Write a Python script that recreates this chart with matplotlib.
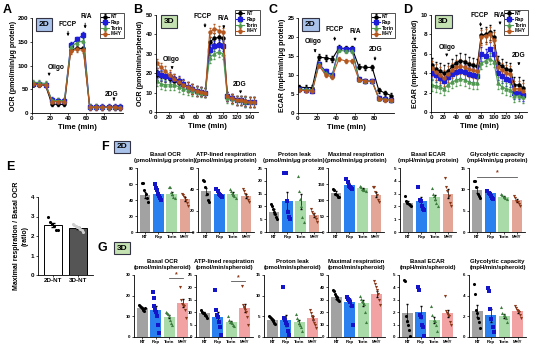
import numpy as np
import matplotlib.pyplot as plt

plt.rcParams['font.family'] = ['Liberation Sans', 'DejaVu Sans']
plt.rcParams['font.weight'] = 'bold'
plt.rcParams['axes.labelweight'] = 'bold'
plt.rcParams['axes.linewidth'] = 0.6
plt.rcParams['xtick.major.width'] = 0.5
plt.rcParams['ytick.major.width'] = 0.5
plt.rcParams['xtick.major.size'] = 1.5
plt.rcParams['ytick.major.size'] = 1.5
plt.rcParams['xtick.major.pad'] = 1
plt.rcParams['ytick.major.pad'] = 1

groups = ['NT', 'Rap', 'Torin', 'MHY']
line_colors = ['black', '#1e1ed8', '#4f9a4f', '#b5581f']
line_markers = ['o', 's', '^', 'o']

# ---- time courses ----
t_2d = [1, 8, 15, 22, 29, 36, 43, 50, 57, 64, 71, 78, 85, 92, 98]
t_3d = [1, 7.5, 14, 20.5, 27, 34, 40.5, 47, 54, 60.5, 67, 73.5, 80, 87, 93.5, 100,
        106.5, 113, 120, 126.5, 133, 140, 146.5]

ocr_2d = [[60, 60, 58, 19, 18, 18, 133, 136, 136, 12, 12, 12, 12, 12, 11],
          [62, 62, 60, 27, 26, 26, 143, 155, 165, 13, 13, 13, 13, 13, 12],
          [65, 64, 62, 27, 26, 26, 140, 148, 152, 13, 13, 12, 12, 12, 12],
          [61, 60, 59, 24, 24, 23, 130, 134, 132, 12, 12, 12, 12, 12, 11]]
ocr_2d_err = [4, 6, 5, 5]

ocr_3d = [[19, 18.5, 18, 17, 16, 15, 14, 13, 12, 11, 10.5, 10, 36, 38, 38.5, 38, 8, 7, 6, 6, 5.5, 5, 5],
          [20, 19, 18.5, 18, 17, 16, 14.5, 13, 12, 11, 10.5, 10, 32, 34, 34.5, 34, 8, 7, 6, 6, 5, 5, 5],
          [16, 14.5, 14, 14, 14, 13, 12, 11.5, 11, 10.5, 10, 10, 28, 30, 31, 30, 7, 6.5, 6, 6, 5, 5, 5],
          [25, 23, 21, 19, 17, 15.5, 14, 13, 12, 11, 10.5, 10, 41, 43, 42, 41, 8, 7, 6, 6, 5.5, 5, 5]]
ocr_3d_err = [2.5, 2.5, 2.5, 2.5]

ecar_2d = [[6.8, 6.7, 6.7, 14.7, 14.5, 14.2, 17.1, 17.0, 17.0, 12.2, 12.0, 12.0, 6.0, 5.2, 4.6],
           [6.2, 6.1, 5.9, 13.0, 11.0, 10.0, 17.0, 16.8, 16.8, 9.0, 8.5, 8.4, 4.0, 3.7, 3.5],
           [6.3, 6.2, 6.1, 12.8, 10.5, 9.8, 16.5, 16.3, 16.3, 8.8, 8.5, 8.3, 3.8, 3.6, 3.4],
           [6.0, 5.9, 5.8, 12.5, 10.0, 9.5, 14.2, 13.7, 13.7, 8.8, 8.4, 8.3, 3.8, 3.5, 3.3]]
ecar_2d_err = [0.7, 0.5, 0.5, 0.5]

ecar_3d = [[4.8, 4.4, 4.2, 4.0, 4.2, 4.7, 5.1, 5.3, 5.2, 4.9, 4.8, 4.7, 7.9, 8.0, 8.2, 7.7, 5.0, 4.7, 4.4, 4.3, 2.8, 2.8, 2.5],
           [4.0, 3.8, 3.5, 3.2, 3.6, 3.9, 4.1, 4.2, 4.1, 3.9, 3.8, 3.7, 6.0, 5.8, 6.5, 6.0, 4.0, 3.7, 3.4, 3.3, 2.0, 2.0, 1.8],
           [2.8, 2.7, 2.6, 2.4, 2.8, 3.1, 3.3, 3.4, 3.3, 3.1, 3.0, 3.0, 5.0, 5.3, 5.5, 5.2, 3.0, 2.6, 2.4, 2.3, 1.6, 1.7, 1.5],
           [4.5, 4.1, 3.8, 3.5, 3.9, 4.3, 4.6, 4.7, 4.6, 4.4, 4.3, 4.2, 7.7, 7.8, 8.0, 7.4, 4.6, 4.3, 4.0, 3.9, 2.4, 2.4, 2.2]]
ecar_3d_err = [0.8, 0.7, 0.6, 0.8]

# ---- E ----
e_labels = ['2D-NT', '3D-NT']
e_mean = [2.55, 2.43]
e_sem = [0.1, 0.05]
e_pts = [[2.95, 2.7, 2.6, 2.5, 2.3, 2.3], [2.6, 2.55, 2.5, 2.45, 2.4, 2.35, 2.3, 2.2]]

# ---- F (2D) ----
f_titles = ['Basal OCR\n(pmol/min/\u03bcg protein)', 'ATP-lined respiration\n(pmol/min/\u03bcg protein)',
            'Proton leak\n(pmol/min/\u03bcg protein)', 'Maximal respiration\n(pmol/min/\u03bcg protein)',
            'Basal ECAR\n(mpH/min/\u03bcg protein)', 'Glycolytic capacity\n(mpH/min/\u03bcg protein)']
f_basal_mean = [46, 48, 48, 41]
f_basal_sem = [3.5, 2.5, 2, 2.5]
f_basal_pts = [[61, 61, 52, 47, 42, 37], [60, 55, 52, 48, 45, 42, 40], [56, 56, 50, 48, 44, 43], [47, 46, 44, 40, 36, 32]]
f_atp_mean = [38, 36, 36, 34]
f_atp_sem = [3, 1.2, 1.2, 2]
f_atp_pts = [[49, 48, 42, 36, 30, 28], [40, 38, 36, 35, 34, 33], [40, 38, 37, 35, 34, 32], [40, 38, 36, 33, 30, 28]]
f_leak_mean = [8, 12, 12, 6.5]
f_leak_sem = [0.8, 3.5, 3, 0.8]
f_leak_pts = [[11, 10, 9, 8, 7, 6, 5], [23, 23, 12, 8, 6, 5], [22, 16, 13, 10, 6, 4], [9, 8, 7, 6, 5, 4]]
f_max_mean = [122, 147, 136, 117]
f_max_sem = [5, 5, 3, 8]
f_max_pts = [[135, 130, 120, 115, 110, 108], [165, 155, 145, 142, 138, 135], [145, 142, 135, 132, 130, 128], [142, 140, 125, 115, 100, 95]]
f_ecar_mean = [2.3, 2.4, 2.7, 3.0]
f_ecar_sem = [0.12, 0.3, 0.2, 0.35]
f_ecar_pts = [[2.8, 2.4, 2.3, 2.2, 2.1, 2.0], [3.5, 2.5, 2.4, 2.0, 1.8, 1.7], [3.4, 3.0, 2.8, 2.6, 2.3, 2.0], [4.2, 3.5, 3.2, 2.8, 2.3, 2.0]]
f_gly_mean = [9.9, 9.1, 8.3, 7.4]
f_gly_sem = [0.7, 0.3, 0.2, 0.4]
f_gly_pts = [[12, 12, 10.5, 9, 8.5, 8], [9.5, 9.2, 9, 8.5, 8, 7.8], [8.8, 8.6, 8.3, 8.0, 7.8], [8.5, 8, 7.2, 7, 6.5, 6]]

# ---- G (3D) ----
g_titles = ['Basal OCR\n(pmol/min/spheroid)', 'ATP-lined respiration\n(pmol/min/spheroid)',
            'Proton leak\n(pmol/min/spheroid)', 'Maximal respiration\n(pmol/min/spheroid)',
            'Basal ECAR\n(mpH/min/spheroid)', 'Glycolytic capacity\n(mpH/min/spheroid)']
g_basal_mean = [14.2, 13, 9.9, 16.5]
g_basal_sem = [0.4, 2.2, 0.8, 1.8]
g_basal_pts = [[15.5, 15, 14.5, 14, 13.5, 13, 12.5, 14], [22, 19, 15, 13, 12, 10, 6, 2], [12, 11.5, 11, 10, 8, 7, 6], [24, 18, 16, 15.5, 15, 13, 9]]
g_atp_mean = [9.5, 8.2, 6.0, 11.8]
g_atp_sem = [0.4, 2.0, 0.5, 1.6]
g_atp_pts = [[11, 10, 9.5, 9.5, 9, 9, 8.5, 7.5], [19, 11, 9, 8, 6, 4, 1], [8.5, 7, 6, 6, 5.5, 5, 4.5], [20.5, 13, 12, 11.5, 11, 10, 8, 5]]
g_leak_mean = [4.2, 4.0, 3.6, 4.7]
g_leak_sem = [0.2, 1.4, 0.5, 0.5]
g_leak_pts = [[5.0, 4.8, 4.5, 4.3, 4.0, 3.8, 3.5, 3.2], [12, 4.5, 4, 3.5, 3, 1.5, 0.5], [5.5, 4.5, 4, 3.5, 3, 2.5, 1.5], [6.5, 5.8, 5.2, 4.8, 4.2, 3.5, 2.8, 2.2]]
g_max_mean = [32, 28, 27.5, 35]
g_max_sem = [1, 3, 2.5, 2.5]
g_max_pts = [[38, 37, 35, 33, 32, 31, 30, 29], [32, 31, 30, 28, 25, 10], [33, 31, 29, 28, 27, 20, 12], [45, 43, 40, 38, 35, 30, 26]]
g_ecar_mean = [1.95, 2.0, 1.4, 1.9]
g_ecar_sem = [0.7, 0.5, 0.25, 0.25]
g_ecar_pts = [[4.6, 4.5, 1.7, 1.3, 1.0, 0.6, 0.1], [4.0, 3.8, 1.8, 1.6, 1.0, 0.8, 0.1], [2.5, 1.8, 1.4, 1.3, 1.0, 0.5], [3.3, 2.1, 1.9, 1.8, 1.7, 1.2, 1.0]]
g_gly_mean = [2.5, 2.1, 2.0, 2.5]
g_gly_sem = [0.55, 0.6, 0.2, 0.15]
g_gly_pts = [[5.1, 4.2, 2.6, 2.3, 1.8, 1.5, 0.9], [4.7, 4.5, 2.7, 1.7, 1.0, 0.5], [2.9, 2.3, 2.1, 2.0, 1.8, 1.5], [3.0, 2.8, 2.6, 2.5, 2.4, 2.1, 1.8]]

bar_colors_f = ['#a2a2a2', '#2a80ee', '#a8dba8', '#e3a595']
bar_colors_g = ['#a2a2a2', '#2a80ee', '#a8dba8', '#f2a2a2']
dot_colors = ['black', '#1414c8', '#3d7d3d', '#8a3818']
dot_markers = ['o', 's', '^', 'v']

W, H = 550, 352
fig = plt.figure(figsize=(5.5, 3.52), dpi=100)


def px_axes(l, t, r, b):
    return fig.add_axes([l / W, 1 - b / H, (r - l) / W, (b - t) / H])


def clean(ax, fs):
    ax.spines['top'].set_visible(False)
    ax.spines['right'].set_visible(False)
    ax.tick_params(labelsize=fs)
    for lab in ax.get_xticklabels() + ax.get_yticklabels():
        lab.set_fontweight('bold')


def time_panel(ax, t, data, err, ylim, ystep, xlim, xticks, ylabel, marks, tag, tagcolor):
    for i in range(4):
        ax.errorbar(t, data[i], yerr=err[i], color=line_colors[i], marker=line_markers[i],
                    ms=2.2, lw=0.8, elinewidth=0.4, capsize=0.8, label=groups[i])
    ax.set_xlim(*xlim)
    ax.set_ylim(*ylim)
    ax.set_xticks(xticks)
    ax.set_yticks(np.arange(ylim[0], ylim[1] + 0.01, ystep))
    ax.set_xlabel('Time (min)', fontsize=5.5, labelpad=2)
    ax.set_ylabel(ylabel, fontsize=5, labelpad=1)
    clean(ax, 4.5)
    for name, tx, ty, ax_x, y0, y1 in marks:
        ax.text(tx, ty, name, fontsize=4.8, ha='center', va='center')
        ax.annotate('', xy=(ax_x, y1), xytext=(ax_x, y0),
                    arrowprops=dict(arrowstyle='-|>', lw=0.6, color='black', mutation_scale=3.5))
    ax.text(0.13, 0.93, tag, transform=ax.transAxes, fontsize=6, ha='center', va='center',
            bbox=dict(boxstyle='square,pad=0.35', fc=tagcolor, ec='#333344', lw=0.8))
    leg = ax.legend(loc='upper right', bbox_to_anchor=(1.04, 1.08), fontsize=3.5, frameon=True,
                    fancybox=False, edgecolor='black', handlelength=1.6, borderpad=0.3,
                    labelspacing=0.15, handletextpad=0.4)
    leg.get_frame().set_linewidth(0.6)
    for txt in leg.get_texts():
        txt.set_fontweight('bold')


# A
axA = px_axes(32, 18, 123, 113)
time_panel(axA, t_2d, ocr_2d, ocr_2d_err, (0, 200), 50, (0, 101), [0, 20, 40, 60, 80],
           'OCR (pmol/min/\u03bcg protein)',
           [('Oligo', 27, 95, 19, 88, 72), ('FCCP', 40, 186, 40, 178, 156),
            ('R/A', 60, 203, 59, 195, 172), ('2DG', 88, 40, 91, 33, 20)], '2D', '#a9c2ea')
# B
axB = px_axes(156, 15, 258, 112)
time_panel(axB, t_3d, ocr_3d, ocr_3d_err, (0, 50), 10, (0, 152), list(range(0, 141, 20)),
           'OCR (pmol/min/spheroid)',
           [('Oligo', 22, 27, 24, 24.5, 20.5), ('FCCP', 69, 49, 73, 47, 42),
            ('R/A', 100, 48, 101, 46, 41.5), ('2DG', 125, 14, 126, 12, 8)], '3D', '#c5e2b2')
# C
axC = px_axes(298, 18, 394, 113)
time_panel(axC, t_2d, ecar_2d, ecar_2d_err, (0, 25), 5, (0, 101), [0, 20, 40, 60, 80],
           'ECAR (mpH/min/\u03bcg protein)',
           [('Oligo', 16, 18.7, 18, 17, 15.2), ('FCCP', 38, 22, 38.6, 20.7, 18.2),
            ('R/A', 60, 21.5, 60, 20.3, 18.2), ('2DG', 82, 16.7, 81, 15.5, 13)], '2D', '#a9c2ea')
# D
axD = px_axes(431, 15, 527, 112)
time_panel(axD, t_3d, ecar_3d, ecar_3d_err, (0, 10), 2, (0, 153), list(range(0, 141, 20)),
           'ECAR (mpH/min/spheroid)',
           [('Oligo', 26, 6.7, 25, 6.2, 5.4), ('FCCP', 78, 9.9, 79, 9.5, 8.5),
            ('R/A', 108, 9.9, 110, 9.5, 8.7), ('2DG', 139, 5.8, 140, 5.3, 4.5)], '3D', '#c5e2b2')

# E
axE = px_axes(38, 197, 93, 275)
xe = np.arange(2)
axE.bar(xe, e_mean, width=0.75, color=['white', '#555555'], edgecolor='black', lw=0.7)
axE.errorbar(xe, e_mean, yerr=e_sem, fmt='none', ecolor='black', elinewidth=0.6, capsize=1.2)
for i in range(2):
    n = len(e_pts[i])
    axE.scatter(xe[i] + np.linspace(-0.2, 0.2, n), e_pts[i], s=5,
                color=['black', '#cfcfcf'][i], zorder=3, lw=0)
axE.set_ylim(0, 4)
axE.set_yticks([0, 1, 2, 3, 4])
axE.set_xlim(-0.6, 1.6)
axE.set_xticks(xe)
axE.set_xticklabels(e_labels)
axE.set_ylabel('Maximal respiration / Basal OCR\n(ratio)', fontsize=5, labelpad=2)
clean(axE, 4.5)


def bar_panel(ax, mean, sem, pts, ylim, ystep, title, colors, fs=3.2):
    xb = np.arange(4)
    ax.bar(xb, mean, width=0.8, color=colors, lw=0)
    ax.errorbar(xb, mean, yerr=sem, fmt='none', ecolor='black', elinewidth=0.5, capsize=1)
    for i in range(4):
        n = len(pts[i])
        ax.scatter(xb[i] + np.linspace(-0.22, 0.22, n), pts[i], s=5, marker=dot_markers[i],
                   color=dot_colors[i], zorder=3, lw=0)
    ax.set_ylim(*ylim)
    ax.set_yticks(np.arange(ylim[0], ylim[1] + 0.01, ystep))
    ax.set_xlim(-0.6, 3.6)
    ax.set_xticks(xb)
    ax.set_xticklabels(groups)
    ax.set_title(title, fontsize=4.3, fontweight='bold', pad=4, linespacing=1.3)
    clean(ax, fs)


f_lefts = [137, 198, 266, 328, 400, 469]
g_lefts = [134, 196, 264, 328, 399, 469]
f_sets = [(f_basal_mean, f_basal_sem, f_basal_pts, (0, 80), 20),
          (f_atp_mean, f_atp_sem, f_atp_pts, (0, 60), 20),
          (f_leak_mean, f_leak_sem, f_leak_pts, (0, 25), 5),
          (f_max_mean, f_max_sem, f_max_pts, (0, 200), 50),
          (f_ecar_mean, f_ecar_sem, f_ecar_pts, (0, 5), 1),
          (f_gly_mean, f_gly_sem, f_gly_pts, (0, 15), 5)]
g_sets = [(g_basal_mean, g_basal_sem, g_basal_pts, (0, 30), 10),
          (g_atp_mean, g_atp_sem, g_atp_pts, (0, 25), 5),
          (g_leak_mean, g_leak_sem, g_leak_pts, (0, 15), 5),
          (g_max_mean, g_max_sem, g_max_pts, (0, 50), 10),
          (g_ecar_mean, g_ecar_sem, g_ecar_pts, (0, 5), 1),
          (g_gly_mean, g_gly_sem, g_gly_pts, (0, 6), 2)]

f_axes = []
for k in range(6):
    ax = px_axes(f_lefts[k], 168, f_lefts[k] + 56, 232)
    m, s, p, yl, st = f_sets[k]
    bar_panel(ax, m, s, p, yl, st, f_titles[k], bar_colors_f)
    f_axes.append(ax)
g_axes = []
for k in range(6):
    ax = px_axes(g_lefts[k], 275, g_lefts[k] + 57, 337)
    m, s, p, yl, st = g_sets[k]
    bar_panel(ax, m, s, p, yl, st, g_titles[k], bar_colors_g)
    g_axes.append(ax)


def sig(ax, x0, x1, y):
    ax.plot([x0, x1], [y, y], color='#555555', lw=0.6, clip_on=False)
    ax.text((x0 + x1) / 2, y, '*', ha='center', va='bottom', fontsize=5, color='#8a3818', clip_on=False)


sig(f_axes[5], 0, 3, 13)
sig(g_axes[0], 2, 3, 28.5)
sig(g_axes[1], 2, 3, 22.5)

# panel letters and tags
for letter, x, y in [('A', 7, 10), ('B', 138, 10), ('C', 273, 10), ('D', 408, 10),
                     ('E', 10, 167), ('F', 105, 147), ('G', 102, 248)]:
    fig.text(x / W, 1 - y / H, letter, fontsize=9, fontweight='bold', ha='center', va='center')
fig.text(122 / W, 1 - 147 / H, '2D', fontsize=6, fontweight='bold', ha='center', va='center',
         bbox=dict(boxstyle='square,pad=0.35', fc='#a9c2ea', ec='#333344', lw=0.8))
fig.text(122 / W, 1 - 248 / H, '3D', fontsize=6, fontweight='bold', ha='center', va='center',
         bbox=dict(boxstyle='square,pad=0.35', fc='#c5e2b2', ec='#333344', lw=0.8))

fig.savefig('out.png', dpi=100)
